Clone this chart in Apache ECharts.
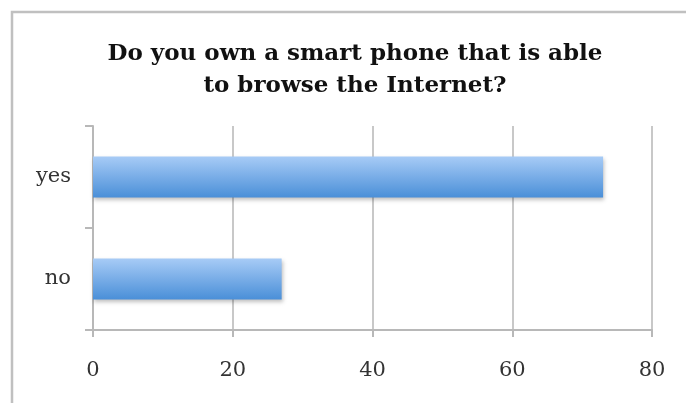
<!DOCTYPE html>
<html>
<head>
<meta charset="utf-8">
<script src="https://cdn.jsdelivr.net/npm/echarts@6/dist/echarts.min.js"></script>
<style>
  html, body { margin: 0; padding: 0; background: #fff; }
  #chart { width: 686px; height: 403px; }
</style>
</head>
<body>
<div id="chart"></div>
<script>
  // data
  var categories = ['yes', 'no'];
  var values = [73, 27];
  var xTicks = [0, 20, 40, 60, 80];
  var titleText = 'Do you own a smart phone that is able\nto browse the Internet?';

  var myChart = echarts.init(document.getElementById('chart'));

  var option = {
    animation: false,
    backgroundColor: '#fff',
    title: {
      text: titleText,
      left: 350,
      top: 33,
      textAlign: 'center',
      textStyle: {
        fontFamily: 'DejaVu Serif',
        fontWeight: 'bold',
        fontSize: 23,
        lineHeight: 32,
        color: '#111'
      }
    },
    graphic: [
      {
        // outer frame, runs off the right / bottom edge
        type: 'rect',
        shape: { x: 12, y: 12, width: 720, height: 440 },
        style: { fill: 'none', stroke: '#c0c0c0', lineWidth: 2.5 },
        silent: true
      }
    ],
    grid: {
      left: 93,
      right: 34,
      top: 126,
      bottom: 73
    },
    xAxis: {
      type: 'value',
      min: xTicks[0],
      max: xTicks[xTicks.length - 1],
      interval: 20,
      axisLine: { show: true, lineStyle: { color: '#b8b8b8', width: 2 } },
      axisTick: { show: true, length: 7, lineStyle: { color: '#b8b8b8', width: 2 } },
      splitLine: { show: true, lineStyle: { color: '#c8c8c8', width: 2 } },
      axisLabel: {
        margin: 30,
        fontFamily: 'DejaVu Serif',
        fontSize: 21,
        color: '#333'
      }
    },
    yAxis: {
      type: 'category',
      data: categories,
      inverse: true,
      axisLine: { show: true, lineStyle: { color: '#b8b8b8', width: 2 } },
      axisTick: { show: true, length: 8, lineStyle: { color: '#b8b8b8', width: 2 } },
      splitLine: { show: false },
      axisLabel: {
        margin: 22,
        fontFamily: 'DejaVu Serif',
        fontSize: 21,
        color: '#333'
      }
    },
    series: [
      {
        type: 'bar',
        data: values,
        barWidth: 41,
        itemStyle: {
          color: new echarts.graphic.LinearGradient(0, 0, 0, 1, [
            { offset: 0, color: '#a7cbf6' },
            { offset: 1, color: '#4a8fd8' }
          ]),
          shadowColor: 'rgba(0,0,0,0.25)',
          shadowBlur: 4,
          shadowOffsetX: 1,
          shadowOffsetY: 2
        }
      }
    ]
  };

  myChart.setOption(option);
</script>
</body>
</html>
